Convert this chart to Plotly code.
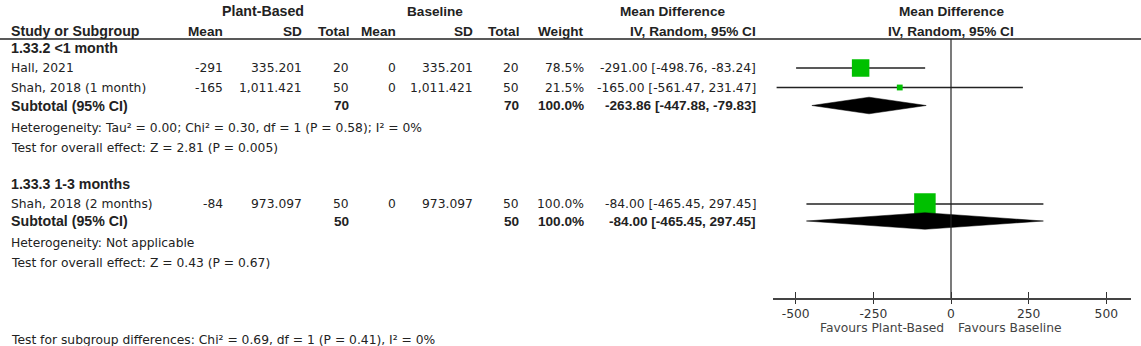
import plotly.graph_objects as go

# ---------------- data ----------------
studies = ["Hall, 2021", "Shah, 2018 (1 month)", "Shah, 2018 (2 months)"]
pb_mean = [-291, -165, -84]
pb_sd = ["335.201", "1,011.421", "973.097"]
pb_total = [20, 50, 50]
bl_mean = [0, 0, 0]
bl_sd = ["335.201", "1,011.421", "973.097"]
bl_total = [20, 50, 50]
weight = [78.5, 21.5, 100.0]
md = [-291.00, -165.00, -84.00]
ci_lo = [-498.76, -561.47, -465.45]
ci_hi = [-83.24, 231.47, 297.45]

groups = ["1.33.2 <1 month", "1.33.3 1-3 months"]
sub_pb_total = [70, 50]
sub_bl_total = [70, 50]
sub_weight = [100.0, 100.0]
sub_md = [-263.86, -84.00]
sub_lo = [-447.88, -465.45]
sub_hi = [-79.83, 297.45]
heterogeneity = ["Heterogeneity: Tau² = 0.00; Chi² = 0.30, df = 1 (P = 0.58); I² = 0%",
                 "Heterogeneity: Not applicable"]
overall = ["Test for overall effect: Z = 2.81 (P = 0.005)",
           "Test for overall effect: Z = 0.43 (P = 0.67)"]
subgroup_test = "Test for subgroup differences: Chi² = 0.69, df = 1 (P = 0.41), I² = 0%"

tick_vals = [-500, -250, 0, 250, 500]
tick_text = ["-500", "-250", "0", "250", "500"]
favours_left = "Favours Plant-Based"
favours_right = "Favours Baseline"

# ---------------- layout constants (pixels) ----------------
W, H = 1141, 346
FONT = "DejaVu Sans, Arial, sans-serif"
BFONT = "Liberation Sans, Arial, sans-serif"
FS = 12.3
BFS = 13.6
TXT = "#222222"
GREEN = "#00c000"

study_y = [68, 87.5, 204]
group_y = [48, 184]
sub_y = [105.5, 221]
het_y = [128, 243]
ovr_y = [148, 263]
AXIS_Y = 298.5
HEADER_LINE_Y = 39

col_mean_pb, col_sd_pb, col_tot_pb = 223, 302, 349
col_mean_bl, col_sd_bl, col_tot_bl = 396, 473, 519
col_w, col_ci = 584, 756
LEFT = 12

fig = go.Figure()
ann = []


def px(x):
    return x / W


def text(x, y, s, anchor="left", bold=False, color=TXT, size=None):
    if bold:
        fam, sz, t = BFONT, size or BFS, "<b>%s</b>" % s
    else:
        fam, sz, t = FONT, size or FS, s
    shift = {"left": -3, "right": 2, "center": 0}[anchor]
    ann.append(dict(x=px(x), y=y, xref="paper", yref="y", text=t, xshift=shift,
                    showarrow=False, xanchor=anchor, yanchor="middle",
                    font=dict(family=fam, size=sz, color=color)))


# headers
text(262.5, 11, "Plant-Based", "center", True, size=14.2)
text(435, 11, "Baseline", "center", True)
text(672, 11, "Mean Difference", "center", True)
text(951, 11, "Mean Difference", "center", True)
text(LEFT, 31, "Study or Subgroup", "left", True, size=14.2)
text(col_mean_pb, 31, "Mean", "right", True)
text(col_sd_pb, 31, "SD", "right", True)
text(col_tot_pb, 31, "Total", "right", True)
text(col_mean_bl, 31, "Mean", "right", True)
text(col_sd_bl, 31, "SD", "right", True)
text(col_tot_bl, 31, "Total", "right", True)
text(col_w, 31, "Weight", "right", True)
text(col_ci, 31, "IV, Random, 95% CI", "right", True)
text(951, 31, "IV, Random, 95% CI", "center", True)

# study rows
for i, s in enumerate(studies):
    y = study_y[i]
    text(LEFT, y, s)
    text(col_mean_pb, y, str(pb_mean[i]), "right")
    text(col_sd_pb, y, pb_sd[i], "right")
    text(col_tot_pb, y, str(pb_total[i]), "right")
    text(col_mean_bl, y, str(bl_mean[i]), "right")
    text(col_sd_bl, y, bl_sd[i], "right")
    text(col_tot_bl, y, str(bl_total[i]), "right")
    text(col_w, y, "%.1f%%" % weight[i], "right")
    text(col_ci, y, "%.2f [%.2f, %.2f]" % (md[i], ci_lo[i], ci_hi[i]), "right")
    fig.add_trace(go.Scatter(x=[ci_lo[i], ci_hi[i]], y=[y, y], mode="lines",
                             line=dict(color="#222222", width=1.3), hoverinfo="skip"))
    fig.add_trace(go.Scatter(x=[md[i]], y=[y], mode="markers",
                             marker=dict(symbol="square", color=GREEN,
                                         size=21.5 * (weight[i] / 100.0) ** 0.85,
                                         line=dict(width=0)), hoverinfo="skip"))

# subgroups
for g, name in enumerate(groups):
    text(LEFT, group_y[g], name, "left", True, size=14.2)
    y = sub_y[g]
    text(LEFT, y, "Subtotal (95% CI)", "left", True, size=14.2)
    text(col_tot_pb, y, str(sub_pb_total[g]), "right", True)
    text(col_tot_bl, y, str(sub_bl_total[g]), "right", True)
    text(col_w, y, "%.1f%%" % sub_weight[g], "right", True)
    text(col_ci, y, "%.2f [%.2f, %.2f]" % (sub_md[g], sub_lo[g], sub_hi[g]), "right", True)
    text(LEFT, het_y[g], heterogeneity[g])
    text(LEFT, ovr_y[g], overall[g])
    h = 8.3
    fig.add_trace(go.Scatter(x=[sub_lo[g], sub_md[g], sub_hi[g], sub_md[g], sub_lo[g]],
                             y=[y, y - h, y, y + h, y], mode="lines", fill="toself",
                             fillcolor="#000000", line=dict(color="#000000", width=0.5),
                             hoverinfo="skip"))

text(LEFT, 340, subgroup_test)
text(944, 327.5, favours_left, "right", False, "#444444")
text(959, 327.5, favours_right, "left", False, "#444444")

# zero line
fig.add_trace(go.Scatter(x=[0, 0], y=[HEADER_LINE_Y, AXIS_Y], mode="lines",
                         line=dict(color="#222222", width=1.2), hoverinfo="skip"))

fig.add_shape(type="line", xref="paper", yref="y", x0=0, x1=1, y0=HEADER_LINE_Y, y1=HEADER_LINE_Y,
              line=dict(color="#222222", width=1.5))

dom = [773 / W, 1131 / W]
scale = 155.3 / 500.0
rng = [(773 - 951) / scale, (1131 - 951) / scale]
pos = 1 - AXIS_Y / H

fig.update_layout(
    width=W, height=H, margin=dict(l=0, r=0, t=0, b=0),
    paper_bgcolor="white", plot_bgcolor="white", showlegend=False,
    annotations=ann,
    xaxis=dict(domain=dom, range=rng, anchor="free", position=pos, showgrid=False, zeroline=False,
               showline=True, linecolor="#444444", linewidth=1.5,
               tickvals=tick_vals, ticktext=tick_text, ticks="inside", ticklen=6,
               tickcolor="#333333", tickwidth=1, ticklabelstandoff=4,
               tickfont=dict(family=FONT, size=FS, color="#333333"), fixedrange=True),
    xaxis2=dict(domain=dom, range=rng, overlaying="x", anchor="free", position=pos,
                showgrid=False, zeroline=False, showline=False, tickvals=tick_vals,
                ticks="outside", ticklen=4, tickcolor="#333333", showticklabels=False),
    yaxis=dict(domain=[0, 1], range=[H, 0], visible=False, fixedrange=True),
)
fig.add_trace(go.Scatter(x=[0], y=[AXIS_Y], xaxis="x2", mode="markers",
                         marker=dict(opacity=0), hoverinfo="skip"))

fig.write_html("out.html")
